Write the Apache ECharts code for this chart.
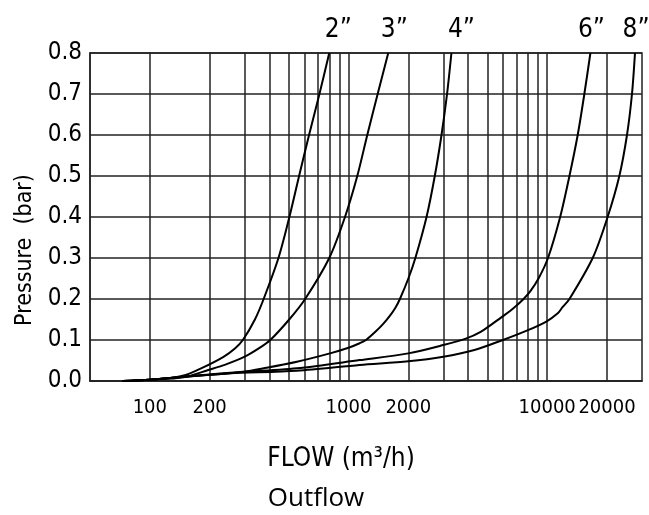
<!DOCTYPE html>
<html><head><meta charset="utf-8">
<script src="https://cdn.jsdelivr.net/npm/echarts@6/dist/echarts.min.js"></script>
<style>html,body{margin:0;padding:0;background:#fff}#c{width:649px;height:515px}</style>
</head><body><div id="c"></div>
<script>
// ---- data ----
const sizeNames = ['2\u201D', '3\u201D', '4\u201D', '6\u201D', '8\u201D'];

const flow2 = [73, 100, 130, 150, 180, 235, 269, 294, 338, 374, 444, 504, 564, 633, 714, 800];
const pres2 = [0, 0.003, 0.008, 0.014, 0.03, 0.059, 0.08, 0.1, 0.15, 0.2, 0.3, 0.4, 0.5, 0.6, 0.7, 0.8];

const flow3 = [73, 100, 148, 197, 240, 302, 355, 404, 503, 605, 800, 960, 1107, 1243, 1402, 1585];
const pres3 = [0, 0.003, 0.009, 0.027, 0.04, 0.06, 0.08, 0.1, 0.15, 0.2, 0.3, 0.4, 0.5, 0.6, 0.7, 0.8];

const flow4 = [73, 100, 130, 200, 297, 374, 550, 807, 1000, 1138, 1224, 1365, 1499, 1621, 1728, 1814, 2001, 2170, 2470, 2718, 2938, 3133, 3296];
const pres4 = [0, 0.003, 0.008, 0.015, 0.0227, 0.031, 0.047, 0.0674, 0.081, 0.092, 0.1, 0.12, 0.14, 0.16, 0.18, 0.2, 0.25, 0.3, 0.4, 0.5, 0.6, 0.7, 0.8];

const flow6 = [73, 100, 130, 200, 254, 550, 1138, 2000, 3000, 3921, 4626, 5314, 6069, 6853, 7603, 8246, 9045, 10093, 11620, 12940, 14240, 15380, 16500];
const pres6 = [0, 0.003, 0.008, 0.016, 0.02, 0.031, 0.051, 0.0674, 0.0877, 0.104, 0.12, 0.14, 0.16, 0.18, 0.2, 0.22, 0.25, 0.3, 0.4, 0.5, 0.6, 0.7, 0.8];

const flow8 = [73, 100, 130, 200, 254, 550, 1138, 2000, 3000, 4300, 5985, 8000, 9900, 11300, 11940, 12940, 16940, 20140, 23070, 25210, 26710, 27660];
const pres8 = [0, 0.003, 0.008, 0.015, 0.019, 0.025, 0.039, 0.048, 0.059, 0.0755, 0.1, 0.124, 0.145, 0.165, 0.18, 0.2, 0.3, 0.4, 0.5, 0.6, 0.7, 0.8];

const xGridValues = [100, 200, 300, 400, 500, 600, 700, 800, 900, 1000, 2000, 3000, 4000, 5000, 6000, 7000, 8000, 9000, 10000, 20000];
const xLabelValues = [100, 200, 1000, 2000, 10000, 20000];

// ---- styling ----
const FONT = "'DejaVu Sans Condensed','DejaVu Sans',sans-serif";
const labelShift = [9, 6, 10, 1, 1];

const flows = [flow2, flow3, flow4, flow6, flow8];
const press = [pres2, pres3, pres4, pres6, pres8];

const series = sizeNames.map((name, i) => ({
  name: name,
  type: 'line',
  smooth: 0.3,
  showSymbol: false,
  symbol: 'none',
  lineStyle: { color: '#000', width: 2 },
  data: flows[i].map((f, k) => [f, press[i][k]]),
  endLabel: {
    show: true,
    formatter: name,
    distance: 0,
    align: 'center',
    verticalAlign: 'bottom',
    offset: [labelShift[i], -10],
    fontFamily: FONT,
    fontSize: 26,
    color: '#000'
  },
  z: 5
}));

const chart = echarts.init(document.getElementById('c'), null, { renderer: 'canvas' });
chart.setOption({
  animation: false,
  backgroundColor: '#fff',
  grid: { left: 90, right: 7, top: 53, bottom: 134, show: true, borderColor: '#222', borderWidth: 1.5 },
  xAxis: {
    type: 'log',
    logBase: 10,
    min: 50,
    max: 30000,
    name: 'FLOW (m\u00B3/h)',
    nameLocation: 'middle',
    nameGap: 65,
    nameTextStyle: { fontFamily: FONT, fontSize: 26, color: '#000', padding: [0, 50, 0, 0] },
    axisLine: { show: true, lineStyle: { color: '#222', width: 1.5 } },
    axisTick: { show: false, customValues: xGridValues },
    axisLabel: { customValues: xLabelValues, hideOverlap: false, showMinLabel: true, showMaxLabel: true, fontFamily: FONT, fontSize: 20, color: '#000', margin: 17, formatter: v => String(Math.round(v)) },
    splitLine: { show: true, lineStyle: { color: '#222', width: 1.5 } },
    minorTick: { show: false },
    minorSplitLine: { show: false }
  },
  yAxis: {
    type: 'value',
    min: 0,
    max: 0.8,
    interval: 0.1,
    name: 'Pressure  (bar)',
    nameLocation: 'middle',
    nameGap: 50,
    nameRotate: 90,
    nameTextStyle: { fontFamily: FONT, fontSize: 23, color: '#000', padding: [0, 66, 0, 0] },
    axisLine: { show: true, lineStyle: { color: '#222', width: 1.5 } },
    axisTick: { show: false },
    axisLabel: { fontFamily: FONT, fontSize: 24, color: '#000', margin: 8, formatter: v => v.toFixed(1) },
    splitLine: { show: true, lineStyle: { color: '#222', width: 1.5 } }
  },
  graphic: [{
    type: 'text', x: 316, y: 499,
    style: { text: 'Outflow', font: "26px 'Open Sans', sans-serif", fill: '#000', align: 'center', verticalAlign: 'middle' }
  }],
  series: series
});
</script></body></html>
